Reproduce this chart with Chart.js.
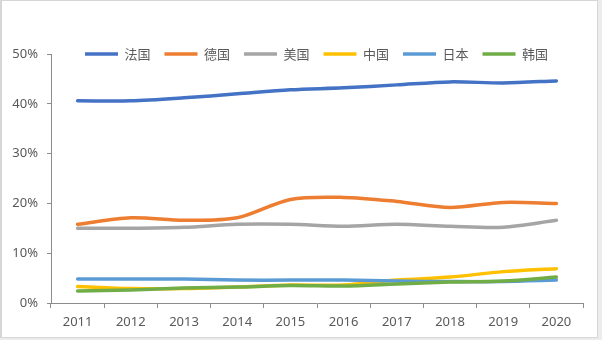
<!DOCTYPE html>
<html>
<head>
<meta charset="utf-8">
<script src="https://cdn.jsdelivr.net/npm/chart.js@4/dist/chart.umd.min.js"></script>
<style>
  html, body { margin: 0; padding: 0; background: #ececec; }
  #wrap { position: relative; width: 602px; height: 340px; }
  #frame {
    position: absolute; left: 0; top: 0;
    width: 595px; height: 336px;
    background: #fff;
    border: 1px solid #d6d6d6; border-left-width: 2px;
  }
  #myChart { position: absolute; left: 0; top: 0; }
</style>
</head>
<body>
<div id="wrap">
  <div id="frame"></div>
  <canvas id="myChart" width="602" height="340"></canvas>
</div>
<script>
"use strict";

var years = ["2011", "2012", "2013", "2014", "2015", "2016", "2017", "2018", "2019", "2020"];
var yTicks = [0, 10, 20, 30, 40, 50];

// share of each country, in percent
var france  = [40.6, 40.6, 41.2, 42.0, 42.8, 43.2, 43.8, 44.4, 44.2, 44.6];
var germany = [15.8, 17.1, 16.6, 17.1, 20.8, 21.2, 20.4, 19.2, 20.2, 20.0];
var usa     = [15.0, 15.0, 15.2, 15.8, 15.8, 15.4, 15.8, 15.4, 15.2, 16.6];
var china   = [3.3, 2.9, 2.9, 3.2, 3.6, 3.6, 4.6, 5.2, 6.3, 6.9];
var japan   = [4.8, 4.8, 4.8, 4.6, 4.6, 4.6, 4.4, 4.3, 4.3, 4.6];
var korea   = [2.4, 2.6, 3.0, 3.2, 3.5, 3.4, 3.8, 4.2, 4.4, 5.2];

var names  = ["法国", "德国", "美国", "中国", "日本", "韩国"];
var series = [france, germany, usa, china, japan, korea];
var colors = ["#4472C4", "#ED7D31", "#A5A5A5", "#FFC000", "#5B9BD5", "#70AD47"];

var axisColor = "#8c8c8c";
var textColor = "#595959";

var datasets = series.map(function(values, i){
  return {
    label: names[i],
    data: values,
    borderColor: colors[i],
    backgroundColor: colors[i],
    borderWidth: 3.5,
    borderCapStyle: "round",
    pointRadius: 0,
    tension: 0.3,
    fill: false,
    order: series.length - i   // later series on top
  };
});

// legend sits on the top edge of the plot area
var legendPlace = {
  id: "legendPlace",
  afterLayout: function(chart){
    var lg = chart.legend;
    var h = lg.height, w = lg.width;
    lg.left = 71;
    lg.right = lg.left + w;
    lg.top = 33.5;
    lg.bottom = lg.top + h;
  }
};

new Chart(document.getElementById("myChart"), {
  type: "line",
  data: { labels: years, datasets: datasets },
  plugins: [legendPlace],
  options: {
    responsive: false,
    animation: false,
    layout: { padding: { top: 17, right: 19, bottom: 0, left: 0 } },
    plugins: {
      tooltip: { enabled: false },
      legend: {
        position: "top",
        align: "start",
        labels: {
          usePointStyle: true,
          pointStyle: "line",
          pointStyleWidth: 33,
          boxHeight: 13,
          padding: 14,
          color: textColor,
          font: { family: "'Noto Sans CJK SC', 'Noto Sans'", size: 13 },
          sort: function(a, b){ return a.datasetIndex - b.datasetIndex; }
        }
      }
    },
    scales: {
      x: {
        type: "category",
        offset: true,
        grid: { offset: true, drawOnChartArea: false, drawTicks: true, tickLength: 5, color: axisColor },
        border: { color: axisColor },
        ticks: { color: textColor, padding: 6, maxRotation: 0, font: { family: "'Noto Sans'", size: 13 } },
        afterFit: function(scale){ scale.height = 37; }
      },
      y: {
        min: 0,
        max: 50,
        afterBuildTicks: function(scale){
          scale.ticks = yTicks.map(function(v){ return { value: v }; });
        },
        grid: { drawOnChartArea: false, drawTicks: true, tickLength: 4, color: axisColor },
        border: { color: axisColor },
        ticks: {
          color: textColor,
          padding: 9,
          font: { family: "'Noto Sans'", size: 13 },
          callback: function(v){ return v + "%"; }
        },
        afterFit: function(scale){ scale.width = 51; }
      }
    }
  }
});
</script>
</body>
</html>
